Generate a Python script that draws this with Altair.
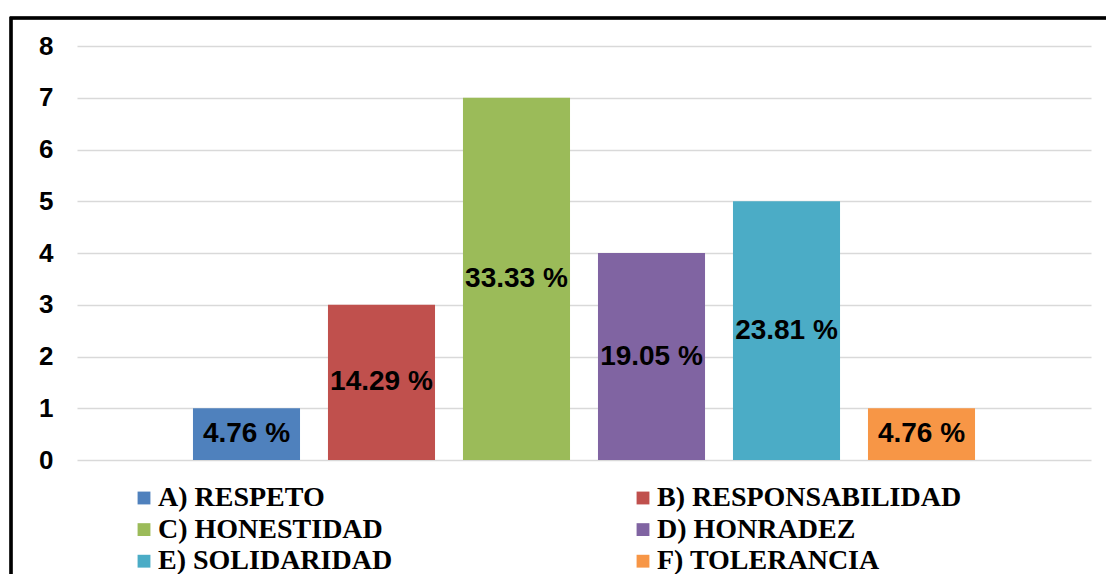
import altair as alt
import pandas as pd

categories = ["A) RESPETO", "B) RESPONSABILIDAD", "C) HONESTIDAD",
              "D) HONRADEZ", "E) SOLIDARIDAD", "F) TOLERANCIA"]
counts = [1, 3, 7, 4, 5, 1]
percent_labels = ["4.76 %", "14.29 %", "33.33 %", "19.05 %", "23.81 %", "4.76 %"]
colors = ["#4F81BD", "#C0504D", "#9BBB59", "#8064A2", "#4BACC6", "#F79646"]
y_ticks = [0, 1, 2, 3, 4, 5, 6, 7, 8]

df = pd.DataFrame({"cat": categories, "n": counts, "lbl": percent_labels})

xenc = alt.X("cat:N", sort=categories, axis=None,
             scale=alt.Scale(paddingInner=0.207, paddingOuter=0.859))

bars = alt.Chart(df).mark_bar().encode(
    x=xenc,
    y=alt.Y("n:Q", scale=alt.Scale(domain=[0, 8]),
            axis=alt.Axis(values=y_ticks, title=None, domain=False, ticks=False,
                          grid=True, gridColor="#D9D9D9", gridWidth=1.5,
                          labelFont="Liberation Sans", labelFontWeight="bold",
                          labelFontSize=26, labelColor="black", labelPadding=24)),
    color=alt.Color("cat:N", sort=categories,
                    scale=alt.Scale(domain=categories, range=colors),
                    legend=alt.Legend(title=None, orient="none", legendX=53, legendY=438,
                                      columns=2, columnPadding=236, rowPadding=3.6,
                                      symbolType="square", symbolSize=165,
                                      symbolStrokeWidth=0, labelOffset=0,
                                      labelFont="Liberation Serif", labelFontWeight="bold",
                                      labelFontSize=28, labelColor="black",
                                      labelLimit=400, padding=0, direction="horizontal")),
)

labels = alt.Chart(df).transform_calculate(mid="datum.n / 2").mark_text(
    font="Liberation Sans", fontWeight="bold", fontSize=28, color="black",
    baseline="middle", align="center"
).encode(
    x=xenc,
    y=alt.Y("mid:Q"),
    text="lbl:N",
)

frame = alt.Chart(df).mark_rect(filled=False, stroke="black", strokeWidth=2.5).encode(
    x=alt.value(-66), x2=alt.value(1300), y=alt.value(-28), y2=alt.value(800)
)

chart = alt.layer(frame, bars, labels).properties(
    width=1014, height=414,
    autosize=alt.AutoSizeParams(type="none"),
    padding={"left": 69, "top": 38, "right": 15, "bottom": 114},
    background="white",
).configure_view(stroke=None)

chart.save("out.html", embed_options={"renderer": "svg", "actions": False})
